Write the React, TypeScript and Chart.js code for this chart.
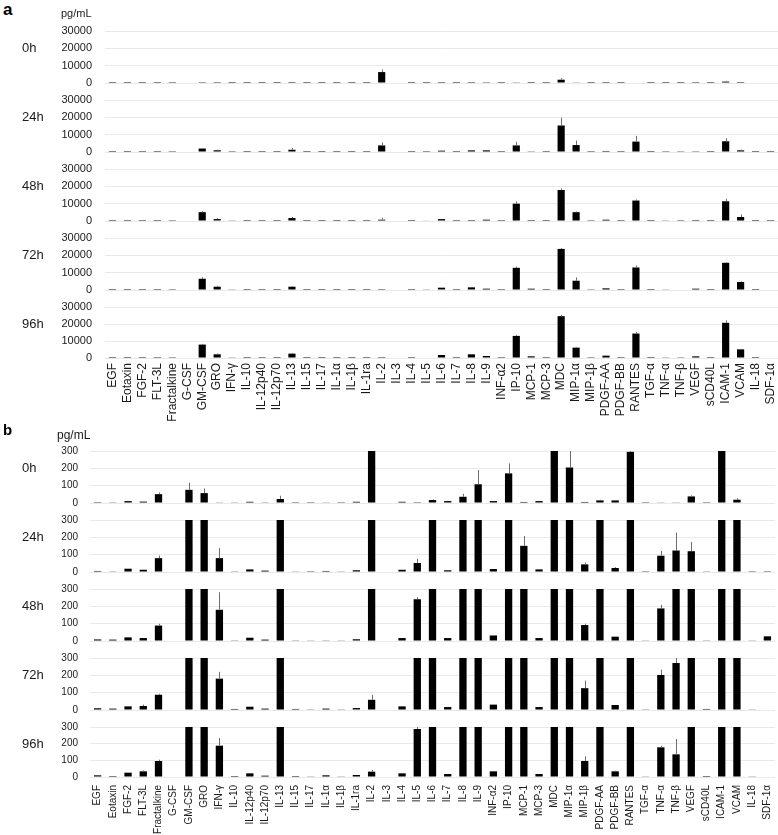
import React, { useEffect, useRef } from 'react';
import { Chart, registerables } from 'chart.js';

Chart.register(...registerables);

// ---------------- DATA ----------------
const categories = [
  'EGF', 'Eotaxin', 'FGF-2', 'FLT-3L', 'Fractalkine', 'G-CSF', 'GM-CSF', 'GRO', 'IFN-γ', 'IL-10',
  'IL-12p40', 'IL-12p70', 'IL-13', 'IL-15', 'IL-17', 'IL-1α', 'IL-1β', 'IL-1ra', 'IL-2', 'IL-3',
  'IL-4', 'IL-5', 'IL-6', 'IL-7', 'IL-8', 'IL-9', 'INF-α2', 'IP-10', 'MCP-1', 'MCP-3',
  'MDC', 'MIP-1α', 'MIP-1β', 'PDGF-AA', 'PDGF-BB', 'RANTES', 'TGF-α', 'TNF-α', 'TNF-β', 'VEGF',
  'sCD40L', 'ICAM-1', 'VCAM', 'IL-18', 'SDF-1α',
];

const timeLabels = ['0h', '24h', '48h', '72h', '96h'];

const h0 = [5, 4, 11, 8, 51, 0, 76, 57, 2, 2, 7, 4, 23, 1, 1, 2, 1, 7, 6300, 0, 7, 1, 17, 11, 36, 108, 11, 171, 6, 11, 1900, 205, 6, 15, 15, 295, 1, 2, 2, 38, 1, 800, 19, 0, 0];
const h0Err = [1, 1, 2, 2, 10, 0, 42, 27, 1, 1, 2, 1, 19, 0, 0, 1, 0, 2, 1500, 0, 2, 0, 4, 2, 17, 82, 3, 57, 2, 2, 900, 100, 2, 4, 3, 60, 0, 1, 1, 6, 0, 400, 9, 0, 0];

const h24 = [6, 4, 19, 13, 80, 0, 2000, 1000, 80, 4, 15, 8, 1300, 2, 1, 6, 2, 10, 3800, 0, 13, 52, 760, 10, 950, 950, 17, 3800, 151, 15, 15300, 4000, 44, 600, 23, 6000, 1, 94, 124, 120, 4, 6200, 950, 1, 1];
const h24Err = [1, 1, 3, 3, 15, 0, 300, 400, 58, 1, 3, 2, 1000, 0, 0, 1, 0, 2, 1700, 0, 3, 24, 200, 2, 200, 200, 3, 2100, 57, 3, 4500, 2600, 11, 200, 5, 3300, 0, 28, 103, 54, 1, 1700, 400, 0, 0];

const h48 = [9, 8, 21, 17, 89, 0, 5100, 1100, 180, 4, 19, 8, 1700, 4, 2, 4, 2, 10, 760, 0, 17, 241, 1100, 17, 570, 760, 32, 10000, 570, 17, 17900, 5100, 92, 760, 25, 11800, 2, 188, 500, 570, 4, 11400, 2300, 2, 27];
const h48Err = [1, 1, 2, 2, 10, 0, 600, 500, 101, 1, 2, 1, 600, 0, 0, 1, 0, 2, 1100, 0, 2, 12, 200, 2, 150, 150, 3, 1300, 150, 2, 900, 400, 8, 200, 3, 600, 0, 21, 200, 150, 0, 1500, 1500, 0, 3];

const h72 = [10, 8, 21, 23, 88, 0, 6500, 1900, 181, 6, 19, 8, 1900, 6, 4, 8, 4, 11, 59, 0, 21, 380, 1340, 17, 1530, 760, 31, 12800, 760, 17, 23700, 5350, 126, 950, 29, 13000, 4, 202, 271, 760, 6, 15700, 4600, 2, 0];
const h72Err = [1, 1, 3, 8, 6, 0, 950, 600, 39, 1, 2, 1, 400, 1, 0, 1, 0, 2, 29, 0, 3, 60, 200, 2, 200, 150, 3, 760, 150, 2, 550, 1900, 44, 200, 3, 1100, 0, 31, 35, 150, 1, 400, 400, 0, 0];

const h96 = [10, 6, 26, 34, 96, 0, 7900, 2170, 188, 6, 22, 8, 2560, 6, 2, 10, 2, 12, 32, 0, 22, 288, 1770, 18, 2170, 1180, 34, 13000, 985, 18, 24600, 6100, 96, 1380, 34, 14400, 2, 178, 136, 985, 6, 20700, 5100, 2, 0];
const h96Err = [1, 1, 2, 6, 8, 0, 400, 500, 46, 1, 2, 1, 400, 1, 0, 1, 0, 2, 10, 0, 2, 12, 200, 2, 200, 200, 3, 600, 150, 2, 800, 400, 28, 200, 4, 800, 0, 10, 92, 150, 1, 1500, 300, 0, 0];

const seriesMeans = [h0, h24, h48, h72, h96];
const seriesErrs = [h0Err, h24Err, h48Err, h72Err, h96Err];

// ---------------- STYLE / LAYOUT ----------------
const FONT = "'Liberation Sans', Arial, Helvetica, sans-serif";
const PAGE_W = 778;
const CANVAS_W = 800;
const PAD = 8;

type PanelCfg = {
  key: string;
  letter: string;
  max: number;
  step: number;
  axisWidth: number;
  plotRight: number;
  tickSize: number;
  labelSize: number;
  tickGap: number;
  xGap: number;
  plotTops: number[];
  plotHeights: number[];
  xAxisH: number;
  letterTop: number;
  letterSize: number;
  unitLeft: number;
  unitTop: number;
  unitSize: number;
};

const panelA: PanelCfg = {
  key: 'a', letter: 'a', max: 30000, step: 10000, axisWidth: 105, plotRight: 778,
  tickSize: 11, labelSize: 12, tickGap: 13, xGap: 5,
  plotTops: [31, 100, 169, 238, 307], plotHeights: [52, 52, 52, 52, 51], xAxisH: 70,
  letterTop: 1, letterSize: 17, unitLeft: 61, unitTop: 8, unitSize: 11,
};

const panelB: PanelCfg = {
  key: 'b', letter: 'b', max: 300, step: 100, axisWidth: 90, plotRight: 775,
  tickSize: 10, labelSize: 10, tickGap: 12, xGap: 8,
  plotTops: [451, 520, 589, 658, 727], plotHeights: [52, 52, 52, 52, 50], xAxisH: 58,
  letterTop: 422, letterSize: 15, unitLeft: 57, unitTop: 429, unitSize: 12,
};

const errorBarPlugin = {
  id: 'errorBars',
  afterDatasetsDraw(chart: any, _args: any, opts: any) {
    const values: number[] = opts.values;
    const errors: number[] = opts.errors;
    if (!values || !errors) return;
    const meta = chart.getDatasetMeta(0);
    const y = chart.scales.y;
    const area = chart.chartArea;
    const ctx = chart.ctx;
    ctx.save();
    ctx.beginPath();
    ctx.rect(area.left, area.top, area.right - area.left, area.bottom - area.top);
    ctx.clip();
    ctx.strokeStyle = opts.color || '#666';
    ctx.lineWidth = 1;
    meta.data.forEach((bar: any, i: number) => {
      const e = errors[i];
      if (!e) return;
      const y0 = y.getPixelForValue(values[i]);
      const y1 = y.getPixelForValue(values[i] + e);
      if (y0 - y1 < 0.6) return;
      const x = Math.round(bar.x) + 0.5;
      ctx.beginPath();
      ctx.moveTo(x, y0);
      ctx.lineTo(x, y1);
      ctx.stroke();
    });
    ctx.restore();
  },
};

function SubChart({ panel, row }: { panel: PanelCfg; row: number }) {
  const ref = useRef<HTMLCanvasElement | null>(null);
  const isBottom = row === timeLabels.length - 1;
  const plotH = panel.plotHeights[row];
  const canvasH = PAD + plotH + (isBottom ? panel.xAxisH : PAD);

  useEffect(() => {
    if (!ref.current) return;
    const values = seriesMeans[row];
    const errors = seriesErrs[row];
    const chart = new Chart(ref.current, {
      type: 'bar',
      data: {
        labels: categories,
        datasets: [
          {
            data: values,
            backgroundColor: '#000000',
            borderWidth: 0,
            barPercentage: 0.48,
            categoryPercentage: 1,
          },
        ],
      },
      options: {
        animation: false,
        responsive: false,
        maintainAspectRatio: false,
        devicePixelRatio: 1,
        events: [],
        layout: {
          padding: {
            left: 0,
            right: CANVAS_W - panel.plotRight,
            top: PAD,
            bottom: isBottom ? 0 : PAD,
          },
        },
        plugins: {
          legend: { display: false },
          tooltip: { enabled: false },
          title: { display: false },
          errorBars: { values, errors, color: '#6e6e6e' },
        } as any,
        scales: {
          x: {
            display: isBottom,
            grid: { display: false, drawTicks: true, tickLength: panel.xGap },
            border: { display: false },
            ticks: {
              autoSkip: false,
              maxRotation: 90,
              minRotation: 90,
              padding: 0,
              color: '#1a1a1a',
              font: { family: FONT, size: panel.labelSize, lineHeight: 1 },
            },
            afterFit: (s: any) => {
              if (isBottom) s.height = panel.xAxisH;
            },
          },
          y: {
            min: 0,
            max: panel.max,
            grid: {
              color: '#e9e9e9',
              lineWidth: 1,
              drawTicks: true,
              tickLength: panel.tickGap,
              tickColor: 'rgba(0,0,0,0)',
            },
            border: { display: false },
            ticks: {
              stepSize: panel.step,
              autoSkip: false,
              padding: 0,
              color: '#1a1a1a',
              font: { family: FONT, size: panel.tickSize, lineHeight: 1 },
              callback: (v: any) => String(v),
            },
            afterFit: (s: any) => {
              s.width = panel.axisWidth;
            },
          },
        },
      } as any,
      plugins: [errorBarPlugin],
    });
    return () => chart.destroy();
  }, []);

  return (
    <div
      style={{
        position: 'absolute',
        left: 0,
        top: panel.plotTops[row] - PAD,
        width: CANVAS_W,
        height: canvasH,
      }}
    >
      <canvas ref={ref} width={CANVAS_W} height={canvasH} style={{ display: 'block' }} />
    </div>
  );
}

function Panel({ panel }: { panel: PanelCfg }) {
  return (
    <>
      {timeLabels.map((_, r) => (
        <SubChart key={panel.key + r} panel={panel} row={r} />
      ))}
      <div
        style={{
          position: 'absolute',
          left: 3,
          top: panel.letterTop,
          fontFamily: FONT,
          fontWeight: 'bold',
          fontSize: panel.letterSize,
          lineHeight: 1,
          color: '#000',
        }}
      >
        {panel.letter}
      </div>
      <div
        style={{
          position: 'absolute',
          left: panel.unitLeft,
          top: panel.unitTop,
          fontFamily: FONT,
          fontSize: panel.unitSize,
          lineHeight: 1,
          color: '#1a1a1a',
          whiteSpace: 'nowrap',
        }}
      >
        pg/mL
      </div>
      {timeLabels.map((t, r) => (
        <div
          key={panel.key + 'lbl' + r}
          style={{
            position: 'absolute',
            left: 22,
            top: panel.plotTops[r] + 10,
            fontFamily: FONT,
            fontSize: 13,
            lineHeight: 1,
            color: '#1a1a1a',
            whiteSpace: 'nowrap',
          }}
        >
          {t}
        </div>
      ))}
    </>
  );
}

export default function App() {
  return (
    <div
      style={{
        position: 'absolute',
        left: 0,
        top: 0,
        width: PAGE_W,
        height: 835,
        background: '#ffffff',
        overflow: 'hidden',
      }}
    >
      <Panel panel={panelA} />
      <Panel panel={panelB} />
    </div>
  );
}
